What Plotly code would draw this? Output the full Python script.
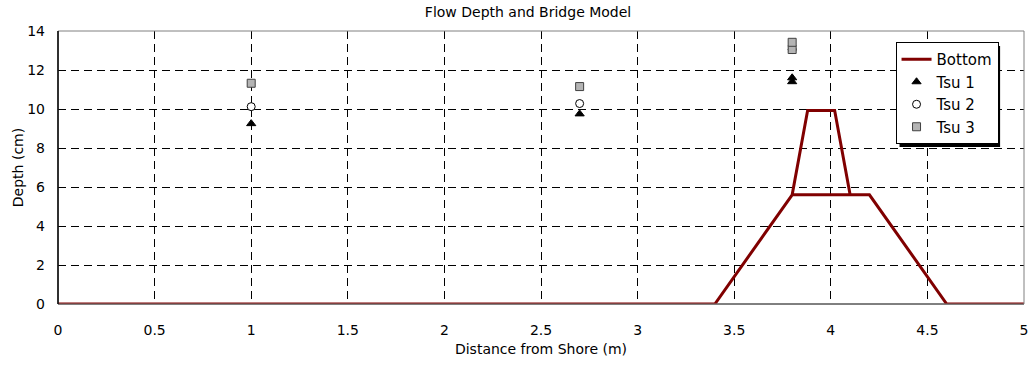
import plotly.graph_objects as go

# Data
bottom_x = [0, 3.4, 3.8, 3.88, 4.02, 4.1, 3.8, 4.2, 4.6, 5]
bottom_y = [0, 0, 5.6, 9.92, 9.92, 5.6, 5.6, 5.6, 0, 0]

tsu1_x = [1, 2.7, 3.8, 3.8]
tsu1_y = [9.25, 9.75, 11.4, 11.6]
tsu2_x = [1, 2.7, 3.8]
tsu2_y = [10.12, 10.28, 13.05]
tsu3_x = [1, 2.7, 3.8, 3.8]
tsu3_y = [11.32, 11.15, 13.05, 13.42]

x_ticks = [0, 0.5, 1, 1.5, 2, 2.5, 3, 3.5, 4, 4.5, 5]
x_labels = ["0", "0.5", "1", "1.5", "2", "2.5", "3", "3.5", "4", "4.5", "5"]
y_ticks = [0, 2, 4, 6, 8, 10, 12, 14]

FONT = "DejaVu Sans"

fig = go.Figure()
fig.add_trace(go.Scatter(x=bottom_x, y=bottom_y, mode="lines", name="Bottom",
                         line=dict(color="#800000", width=3)))
fig.add_trace(go.Scatter(x=tsu1_x, y=tsu1_y, mode="markers", name="Tsu 1",
                         marker=dict(symbol="triangle-up", size=8, color="black",
                                     line=dict(color="black", width=1))))
fig.add_trace(go.Scatter(x=tsu2_x, y=tsu2_y, mode="markers", name="Tsu 2",
                         marker=dict(symbol="circle", size=8, color="white",
                                     line=dict(color="black", width=1))))
fig.add_trace(go.Scatter(x=tsu3_x, y=tsu3_y, mode="markers", name="Tsu 3",
                         marker=dict(symbol="square", size=8, color="#b4b4b4",
                                     line=dict(color="#404040", width=1))))

L, R, T, B = 58, 4, 31, 61
W, H = 1032, 365
pw = W - L - R
ph = H - T - B

def px(x):
    return (x - L) / pw

def py(y):
    return (H - B - y) / ph

grid = dict(showgrid=True, gridcolor="black", gridwidth=1, griddash="8px,5px",
            zeroline=False, showline=False, ticks="", ticklabeloverflow="allow",
            tickfont=dict(family=FONT, size=14, color="black"))

fig.update_layout(
    width=W, height=H,
    margin=dict(l=L, r=R, t=T, b=B),
    paper_bgcolor="white", plot_bgcolor="white",
    font=dict(family=FONT, size=14, color="black"),
    title=dict(text="Flow Depth and Bridge Model", x=px(530), xref="paper",
               xanchor="center", y=1 - 12 / H, yanchor="middle",
               font=dict(family=FONT, size=14, color="black")),
    xaxis=dict(range=[0, 5], tickvals=x_ticks, ticktext=x_labels,
               ticklabelstandoff=16,
               title=dict(text="Distance from Shore (m)", standoff=7,
                          font=dict(family=FONT, size=14)), **grid),
    yaxis=dict(range=[0, 14], tickvals=y_ticks, ticklabelstandoff=12,
               title=dict(text="Depth (cm)", standoff=0,
                          font=dict(family=FONT, size=14)), **grid),
    legend=dict(x=px(899), y=py(42), xanchor="left", yanchor="top",
                bgcolor="white", bordercolor="black", borderwidth=1,
                font=dict(family=FONT, size=15, color="black"),
                tracegroupgap=0, itemwidth=30),
    showlegend=True,
)

# Plot border (gray) and black left/bottom axes
fig.add_shape(type="rect", xref="paper", yref="paper", x0=0, x1=1, y0=0, y1=1,
              line=dict(color="#808080", width=1), layer="above")
fig.add_shape(type="line", xref="paper", yref="paper", x0=0, x1=0, y0=0, y1=1,
              line=dict(color="black", width=1.5), layer="above")
fig.add_shape(type="line", xref="paper", yref="paper", x0=0, x1=1, y0=0, y1=0,
              line=dict(color="black", width=1), layer="below")

# legend drop shadow
fig.add_shape(type="rect", xref="paper", yref="paper",
              x0=px(903), x1=px(1004), y0=py(147), y1=py(46),
              fillcolor="black", line=dict(width=0), layer="above")

fig.write_html("out.html")
